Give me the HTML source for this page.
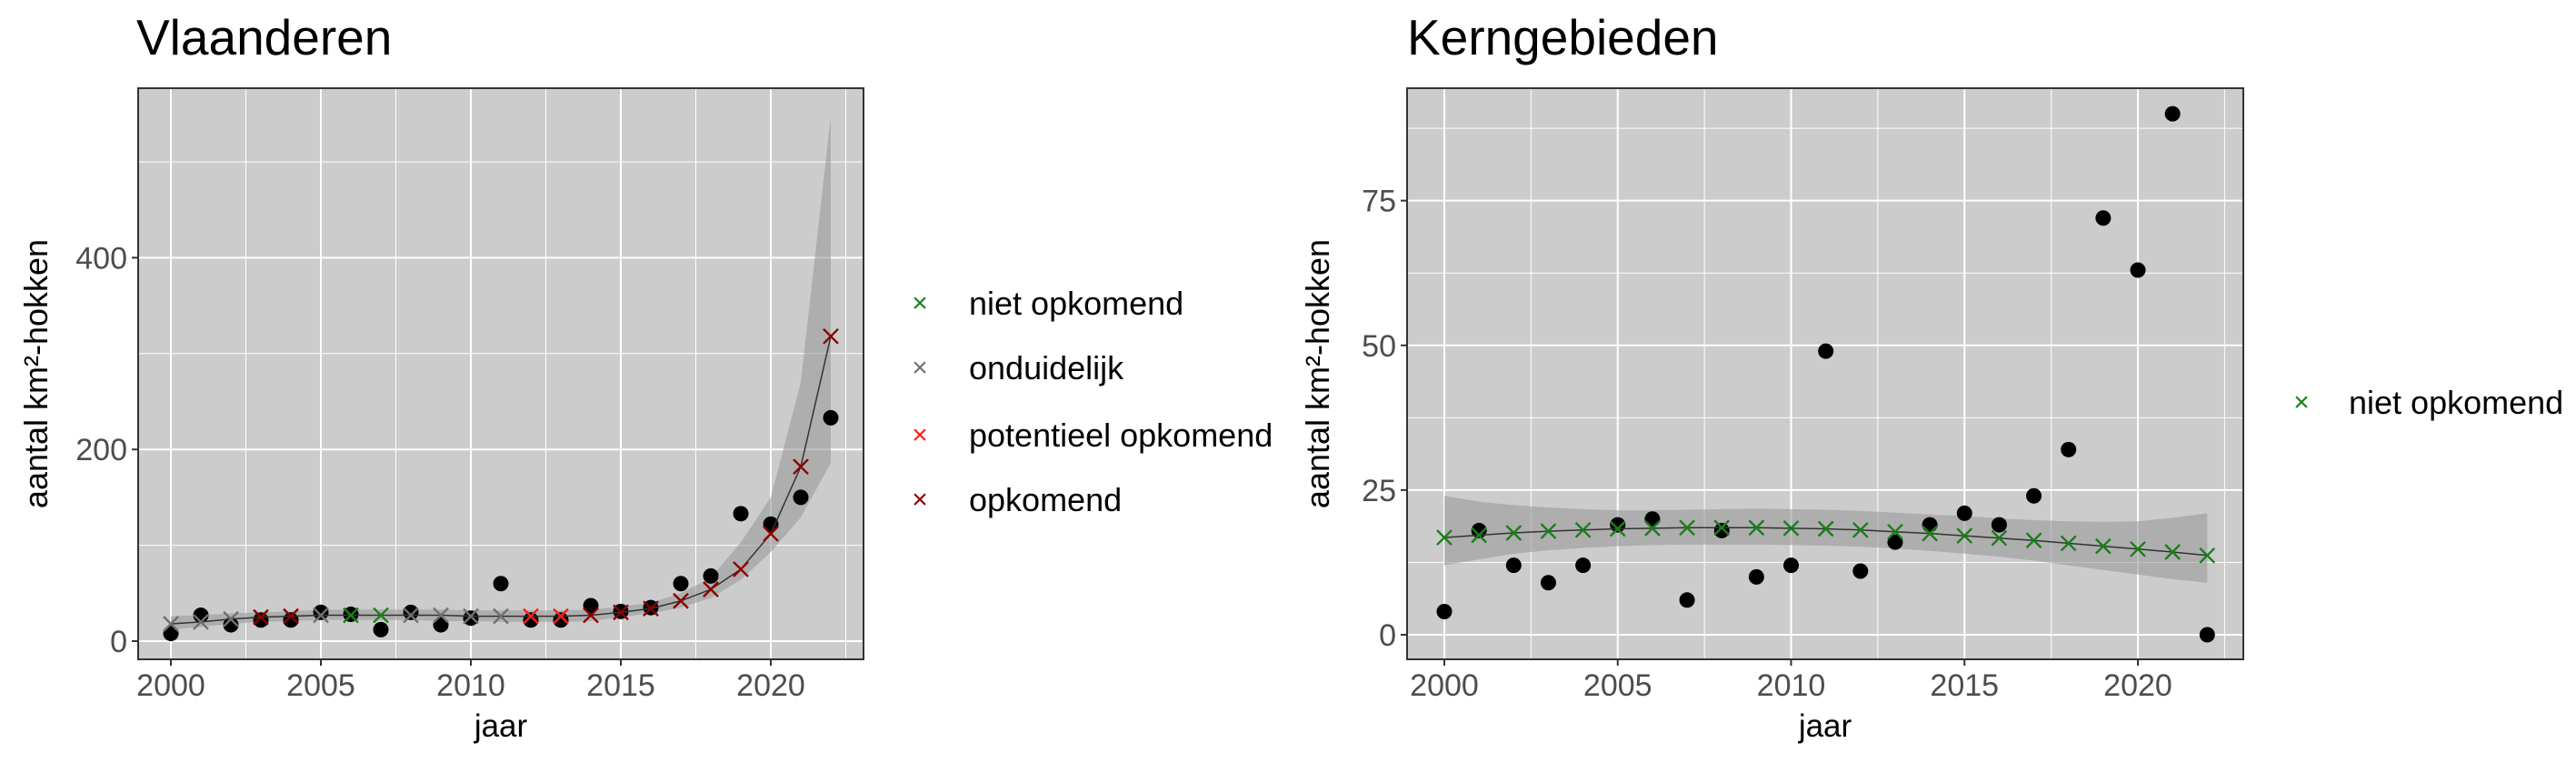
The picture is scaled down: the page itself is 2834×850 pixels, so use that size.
<!DOCTYPE html>
<html><head><meta charset="utf-8"><style>
body{margin:0;background:#fff}
svg{display:block;font-family:"Liberation Sans",Arial,sans-serif}
</style></head><body>
<svg id="chart" width="2834" height="850" viewBox="0 0 2834 850" xmlns="http://www.w3.org/2000/svg">
<text x="150" y="60" font-size="55" fill="#000">Vlaanderen</text>
<text x="1548" y="60" font-size="55" fill="#000">Kerngebieden</text>
<g id="left"></g>
<g id="right"></g>
<g>
<text x="1012" y="343" font-size="30" fill="#1a7f1a" text-anchor="middle">×</text>
<text x="1066" y="346" font-size="36" fill="#000">niet opkomend</text>
<text x="1012" y="414" font-size="30" fill="#707070" text-anchor="middle">×</text>
<text x="1066" y="417" font-size="36" fill="#000">onduidelijk</text>
<text x="1012" y="488" font-size="30" fill="#ff1a1a" text-anchor="middle">×</text>
<text x="1066" y="491" font-size="36" fill="#000">potentieel opkomend</text>
<text x="1012" y="559" font-size="30" fill="#8b0000" text-anchor="middle">×</text>
<text x="1066" y="562" font-size="36" fill="#000">opkomend</text>
</g>
<g>
<text x="2532" y="452" font-size="30" fill="#1a7f1a" text-anchor="middle">×</text>
<text x="2584" y="455" font-size="36" fill="#000">niet opkomend</text>
</g>
</svg>
<script>
const years = [2000,2001,2002,2003,2004,2005,2006,2007,2008,2009,2010,2011,2012,2013,2014,2015,2016,2017,2018,2019,2020,2021,2022];
const vlObserved = [8,27,17,22,22,30,28,12,30,17,24,60,22,22,37,31,35,60,68,133,122,150,233];
const vlFitted = [18,20,23,25,26,27,27,27,27,27,26,26,26,26,27,30,34,42,54,75,112,182,318];
const vlLower = [12,15,18,20,21,22,22,22,22,21,21,20,20,20,21,25,29,35,45,64,93,129,186];
const vlUpper = [26,27,29,30,31,33,33,33,33,33,32,32,32,32,33,36,40,50,66,103,150,270,548];
const vlCategory = ["onduidelijk","onduidelijk","onduidelijk","opkomend","opkomend","onduidelijk","niet opkomend","niet opkomend","onduidelijk","onduidelijk","onduidelijk","onduidelijk","potentieel opkomend","potentieel opkomend","opkomend","opkomend","opkomend","opkomend","opkomend","opkomend","opkomend","opkomend","opkomend"];
const vlYTicks = [0,200,400];
const kgObserved = [4,18,12,9,12,19,20,6,18,10,12,49,11,16,19,21,19,24,32,72,63,90,0];
const kgFitted = [16.8,17.2,17.6,17.9,18.1,18.3,18.4,18.5,18.5,18.5,18.4,18.3,18.1,17.8,17.5,17.1,16.7,16.3,15.8,15.3,14.8,14.3,13.7];
const kgLower = [12,13,14,14.6,15,15.3,15.5,15.6,15.6,15.6,15.5,15.4,15.2,14.9,14.5,14,13.5,12.8,12,11.2,10.4,9.6,9];
const kgUpper = [24,23,22.4,22,21.7,21.5,21.5,21.6,21.7,21.8,21.7,21.6,21.4,21.1,20.8,20.5,20.1,19.8,19.6,19.5,19.6,20.2,21];
const kgCategory = years.map(()=>"niet opkomend");
const kgYTicks = [0,25,50,75];
const xTicks = [2000,2005,2010,2015,2020];
const colors = {"niet opkomend":"#1a7f1a","onduidelijk":"#707070","potentieel opkomend":"#ff1a1a","opkomend":"#8b0000"};
const NS="http://www.w3.org/2000/svg";
function mk(parent,tag,attrs){const e=document.createElementNS(NS,tag);for(const k in attrs)e.setAttribute(k,attrs[k]);parent.appendChild(e);return e;}
function drawPanel(g,p){
  const xs=v=>p.x0+(v-2000)*(p.x20-p.x0)/20;
  const ys=v=>p.y0-v*p.ky;
  const bg=mk(g,'rect',{x:p.L,y:p.T,width:p.R-p.L,height:p.B-p.T,fill:'#cccccc'});
  
  
  for(let i=0;i<xTicks.length+1;i++){const v=1997.5+5*i;const X=xs(v);if(X>p.L&&X<p.R){const l=mk(g,'line',{x1:X,x2:X,y1:p.T,y2:p.B,stroke:'#fff','stroke-width':1});}}
  const step=p.yticks[1]-p.yticks[0];
  for(let v=step/2;ys(v)>p.T;v+=step){const l=mk(g,'line',{x1:p.L,x2:p.R,y1:ys(v),y2:ys(v),stroke:'#fff','stroke-width':1});}
  xTicks.forEach(v=>{const X=xs(v);const l=mk(g,'line',{x1:X,x2:X,y1:p.T,y2:p.B,stroke:'#fff','stroke-width':2});
    const t=mk(g,'line',{x1:X,x2:X,y1:p.B,y2:p.B+7,stroke:'#333','stroke-width':2});
    const tx=mk(g,'text',{x:X,y:p.B+40,'font-size':34,fill:'#4d4d4d','text-anchor':'middle'});tx.textContent=v;});
  p.yticks.forEach(v=>{const Y=ys(v);const l=mk(g,'line',{x1:p.L,x2:p.R,y1:Y,y2:Y,stroke:'#fff','stroke-width':2});
    const t=mk(g,'line',{x1:p.L-7,x2:p.L,y1:Y,y2:Y,stroke:'#333','stroke-width':2});
    const tx=mk(g,'text',{x:p.L-12,y:Y+12,'font-size':34,fill:'#4d4d4d','text-anchor':'end'});tx.textContent=v;});
  let d='';years.forEach((y,i)=>{d+=(i?'L':'M')+xs(y)+','+ys(p.upper[i]);});
  for(let i=years.length-1;i>=0;i--)d+='L'+xs(years[i])+','+ys(p.lower[i]);
  const rb=mk(g,'path',{d:d+'Z',fill:'#999999','fill-opacity':0.6});
  
  years.forEach((y,i)=>{const c=mk(g,'circle',{cx:xs(y),cy:ys(p.obs[i]),r:8.5,fill:'#000'});});
  const ln=mk(g,'polyline',{points:years.map((y,i)=>xs(y)+','+ys(p.fit[i])).join(' '),fill:'none',stroke:'#333','stroke-width':1.5});
  
  years.forEach((y,i)=>{const X=xs(y),Y=ys(p.fit[i]),s=8;const m=mk(g,'path',{d:`M${X-s},${Y-s}L${X+s},${Y+s}M${X-s},${Y+s}L${X+s},${Y-s}`,stroke:colors[p.cat[i]],'stroke-width':2.4});
    });
  const br=mk(g,'rect',{x:p.L,y:p.T,width:p.R-p.L,height:p.B-p.T,fill:'none',stroke:'#333','stroke-width':2});
  
  const xt=mk(g,'text',{x:(p.L+p.R)/2,y:p.B+85,'font-size':35,fill:'#000','text-anchor':'middle'});xt.textContent='jaar';
  
  const yt=mk(g,'text',{x:0,y:0,'font-size':36,fill:'#000','text-anchor':'middle',transform:`translate(${p.ytx},${(p.T+p.B)/2}) rotate(-90)`});yt.textContent='aantal km²-hokken';
  
}
drawPanel(document.getElementById('left'),{L:152,R:950,T:97,B:725,x0:188,x20:848,y0:705,ky:1.054,yticks:vlYTicks,obs:vlObserved,fit:vlFitted,lower:vlLower,upper:vlUpper,cat:vlCategory,ytx:52});
drawPanel(document.getElementById('right'),{L:1548,R:2468,T:97,B:725,x0:1589,x20:2352,y0:698,ky:6.365,yticks:kgYTicks,obs:kgObserved,fit:kgFitted,lower:kgLower,upper:kgUpper,cat:kgCategory,ytx:1462});
</script>
</body></html>
